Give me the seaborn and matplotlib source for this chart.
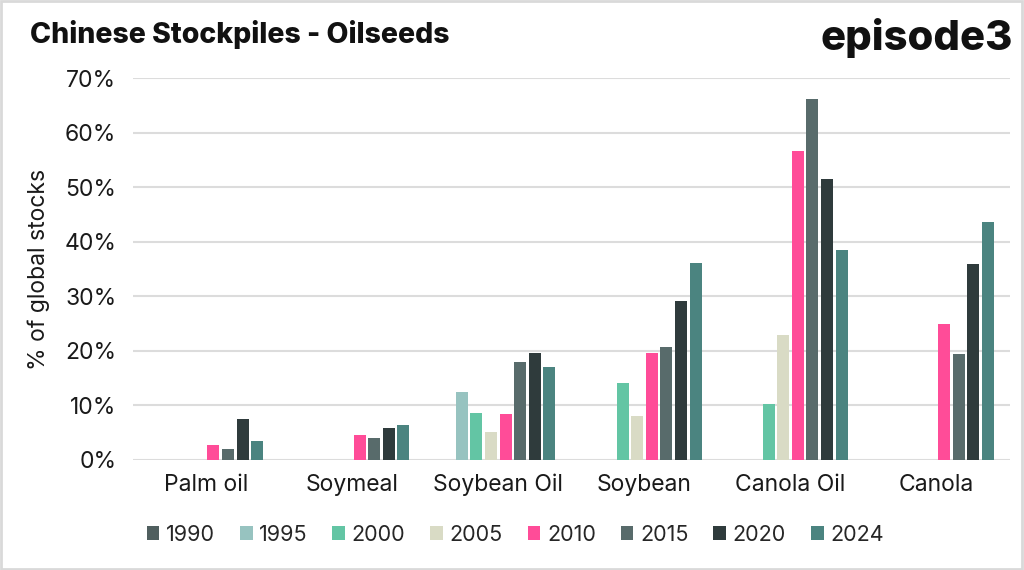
import numpy as np
import pandas as pd
import matplotlib
matplotlib.use("Agg")
import matplotlib.pyplot as plt
from matplotlib.patches import Patch
import seaborn as sns

categories = ["Palm oil", "Soymeal", "Soybean Oil", "Soybean", "Canola Oil", "Canola"]
years = ["1990", "1995", "2000", "2005", "2010", "2015", "2020", "2024"]
nan = np.nan
# values in % of global stocks, per year across categories
v1990 = [nan, nan, nan, nan, nan, nan]
v1995 = [nan, nan, 12.5, nan, nan, nan]
v2000 = [nan, nan, 8.6, 14.2, 10.3, nan]
v2005 = [nan, nan, 5.1, 8.1, 22.9, nan]
v2010 = [2.8, 4.5, 8.4, 19.7, 56.6, 24.9]
v2015 = [2.1, 4.1, 18.0, 20.8, 66.1, 19.4]
v2020 = [7.5, 5.9, 19.7, 29.1, 51.5, 35.9]
v2024 = [3.4, 6.5, 17.1, 36.1, 38.4, 43.7]
series = [v1990, v1995, v2000, v2005, v2010, v2015, v2020, v2024]
colors = ["#505F5F", "#97C3C0", "#63C5A4", "#D9DBC5", "#FF4C98", "#586B6B", "#2F3B3C", "#4B8480"]

rows = []
for y, vals in zip(years, series):
    for c, v in zip(categories, vals):
        rows.append({"category": c, "year": y, "value": v / 100.0})
df = pd.DataFrame(rows)

sns.set_theme(style="white")
plt.rcParams["font.family"] = ["Inter", "DejaVu Sans"]

fig = plt.figure(figsize=(10.24, 5.70), dpi=100)
ax = fig.add_axes([0.130, 0.193, 0.856, 0.670])

palette = dict(zip(years, colors))
sns.barplot(data=df, x="category", y="value", hue="year", order=categories,
            hue_order=years, palette=palette, saturation=1, width=0.8, gap=0.18,
            linewidth=0, ax=ax, legend=False, errorbar=None)

txt = "#1A1A1A"
ax.set_ylim(0, 0.70)
ax.set_yticks(np.arange(0, 0.71, 0.1))
ax.set_yticklabels([f"{int(round(t*100))}%" for t in np.arange(0, 0.71, 0.1)],
                   fontsize=16.5, color=txt)
ax.set_xlim(-0.5, len(categories) - 0.5)
ax.tick_params(axis="x", labelsize=16.5, colors=txt, pad=10, length=0)
ax.tick_params(axis="y", pad=12, length=0)
ax.grid(axis="y", color="#DCDCDC", linewidth=1.5)
ax.set_axisbelow(True)
for s in ax.spines.values():
    s.set_visible(False)
ax.set_xlabel("")
ax.set_ylabel("% of global stocks", fontsize=16.5, color=txt)
ax.yaxis.set_label_coords(-0.095, 0.5)

handles = [Patch(facecolor=c, edgecolor="none") for c in colors]
fig.legend(handles, years, loc="center", bbox_to_anchor=(0.503, 0.062), ncol=8,
           frameon=False, handlelength=0.6, handleheight=0.6,
           handletextpad=0.3, columnspacing=1.15,
           prop={"family": ["Inter", "DejaVu Sans"], "size": 15.5})

fig.text(0.029, 0.94, "Chinese Stockpiles - Oilseeds", fontsize=20.5, fontweight="heavy",
         color="#111111", va="center", ha="left")
fig.text(0.989, 0.933, "episode3", fontsize=30, fontweight="heavy",
         color="#111111", va="center", ha="right")

border = plt.Rectangle((0.001, 0.001), 0.997, 0.997, transform=fig.transFigure,
                       fill=False, edgecolor="#D9D9D9", linewidth=2)
fig.patches.append(border)

fig.savefig("out.png", dpi=100)
